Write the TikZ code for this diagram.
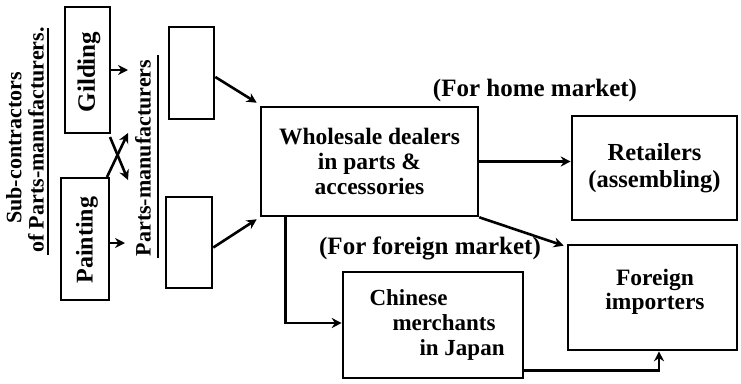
\documentclass[tikz,border=0pt]{standalone}
\usepackage{fontspec}
\setmainfont{Liberation Serif}
\usetikzlibrary{arrows.meta}
\begin{document}
\begin{tikzpicture}[x=1pt,y=-1pt,
  every node/.style={font=\fontsize{22}{25}\selectfont\bfseries},
  box/.style={draw,line width=2.6pt,inner sep=0pt},
  arr/.style={line width=2.6pt,-{Stealth[length=10pt,width=10pt]}},
  uline/.style={line width=2.2pt}]
\useasboundingbox (0,0) rectangle (741,383);
% boxes
\node[box,minimum width=45pt,minimum height=126pt] (gild) at (87.5,70) {};
\node[rotate=90,font=\fontsize{25}{25}\selectfont\bfseries] (gildt) at (89,72) {Gilding};
\node[box,minimum width=48pt,minimum height=122pt] (paint) at (85,239) {};
\node[rotate=90,font=\fontsize{24}{25}\selectfont\bfseries] (paintt) at (87,240) {Painting};
\node[box,minimum width=45pt,minimum height=92pt] (pm1) at (191.5,73) {};
\node[box,minimum width=46pt,minimum height=91pt] (pm2) at (189,242.5) {};
\node[box,minimum width=217pt,minimum height=109pt,align=center,
  font=\fontsize{23.5}{25}\selectfont\bfseries] (whole) at (369.5,161.5)
  {Wholesale dealers\\in parts \&\\accessories};
\node[box,minimum width=165pt,minimum height=104pt,align=center,
  font=\fontsize{24.5}{27}\selectfont\bfseries] (retail) at (654.5,168)
  {Retailers\\(assembling)};
\node[box,minimum width=169pt,minimum height=105pt] (foreign) at (652.5,297.5) {};
\node[align=center,font=\fontsize{23.5}{24}\selectfont\bfseries] (foreignt) at (655,292)
  {Foreign\\importers};
\node[box,minimum width=180pt,minimum height=106pt] (chinese) at (433,325) {};
\node[anchor=base west,font=\fontsize{23}{25}\selectfont\bfseries] (ch1) at (366,305) {Chinese};
\node[anchor=base west,font=\fontsize{23}{25}\selectfont\bfseries] (ch2) at (389,330) {merchants};
\node[anchor=base west,font=\fontsize{23}{25}\selectfont\bfseries] (ch3) at (416,355) {in Japan};
% labels
\node[font=\fontsize{25}{25}\selectfont\bfseries] (home) at (535,90) {(For home market)};
\node[font=\fontsize{25}{25}\selectfont\bfseries] (forgn) at (430,248) {(For foreign market)};
\node[rotate=90] (sub1) at (14,148) {Sub-contractors};
\node[rotate=90] (sub2) at (36,140) {of Parts-manufacturers.};
\node[rotate=90] (pmt) at (143,158) {Parts-manufacturers};
\coordinate (u1a) at (48,28); \coordinate (u1b) at (48,255);
\coordinate (u2a) at (158,55); \coordinate (u2b) at (158,258);
\draw[uline] (u1a) -- (u1b);
\draw[uline] (u2a) -- (u2b);
% arrows
\coordinate (ga) at (128,70);
\coordinate (pa) at (125,243);
\draw[arr] (gild.east |- ga) -- (ga);
\draw[arr] (paint.east |- pa) -- (pa);
\coordinate (c1s) at (107,177); \coordinate (c1e) at (128,133);
\coordinate (c2s) at (110,137); \coordinate (c2e) at (128,180);
\draw[arr] (c1s) -- (c1e);
\draw[arr] (c2s) -- (c2e);
\draw[arr] ([yshift=-4pt]pm1.east) -- ([xshift=-3pt,yshift=3pt]whole.north west);
\draw[arr] ([yshift=-5pt]pm2.east) -- ([xshift=-3pt,yshift=-2pt]whole.south west);
\draw[arr] (whole.east) -- (retail.west |- whole.east);
\draw[arr] (whole.south east) -- ([xshift=-3pt,yshift=-2pt]foreign.north west);
\draw[arr] ([xshift=26pt]whole.south west) |- ([yshift=2pt]chinese.west);
\draw[arr] ([yshift=9pt]chinese.south east) -| ([xshift=6.5pt]foreign.south);
\end{tikzpicture}
\end{document}
